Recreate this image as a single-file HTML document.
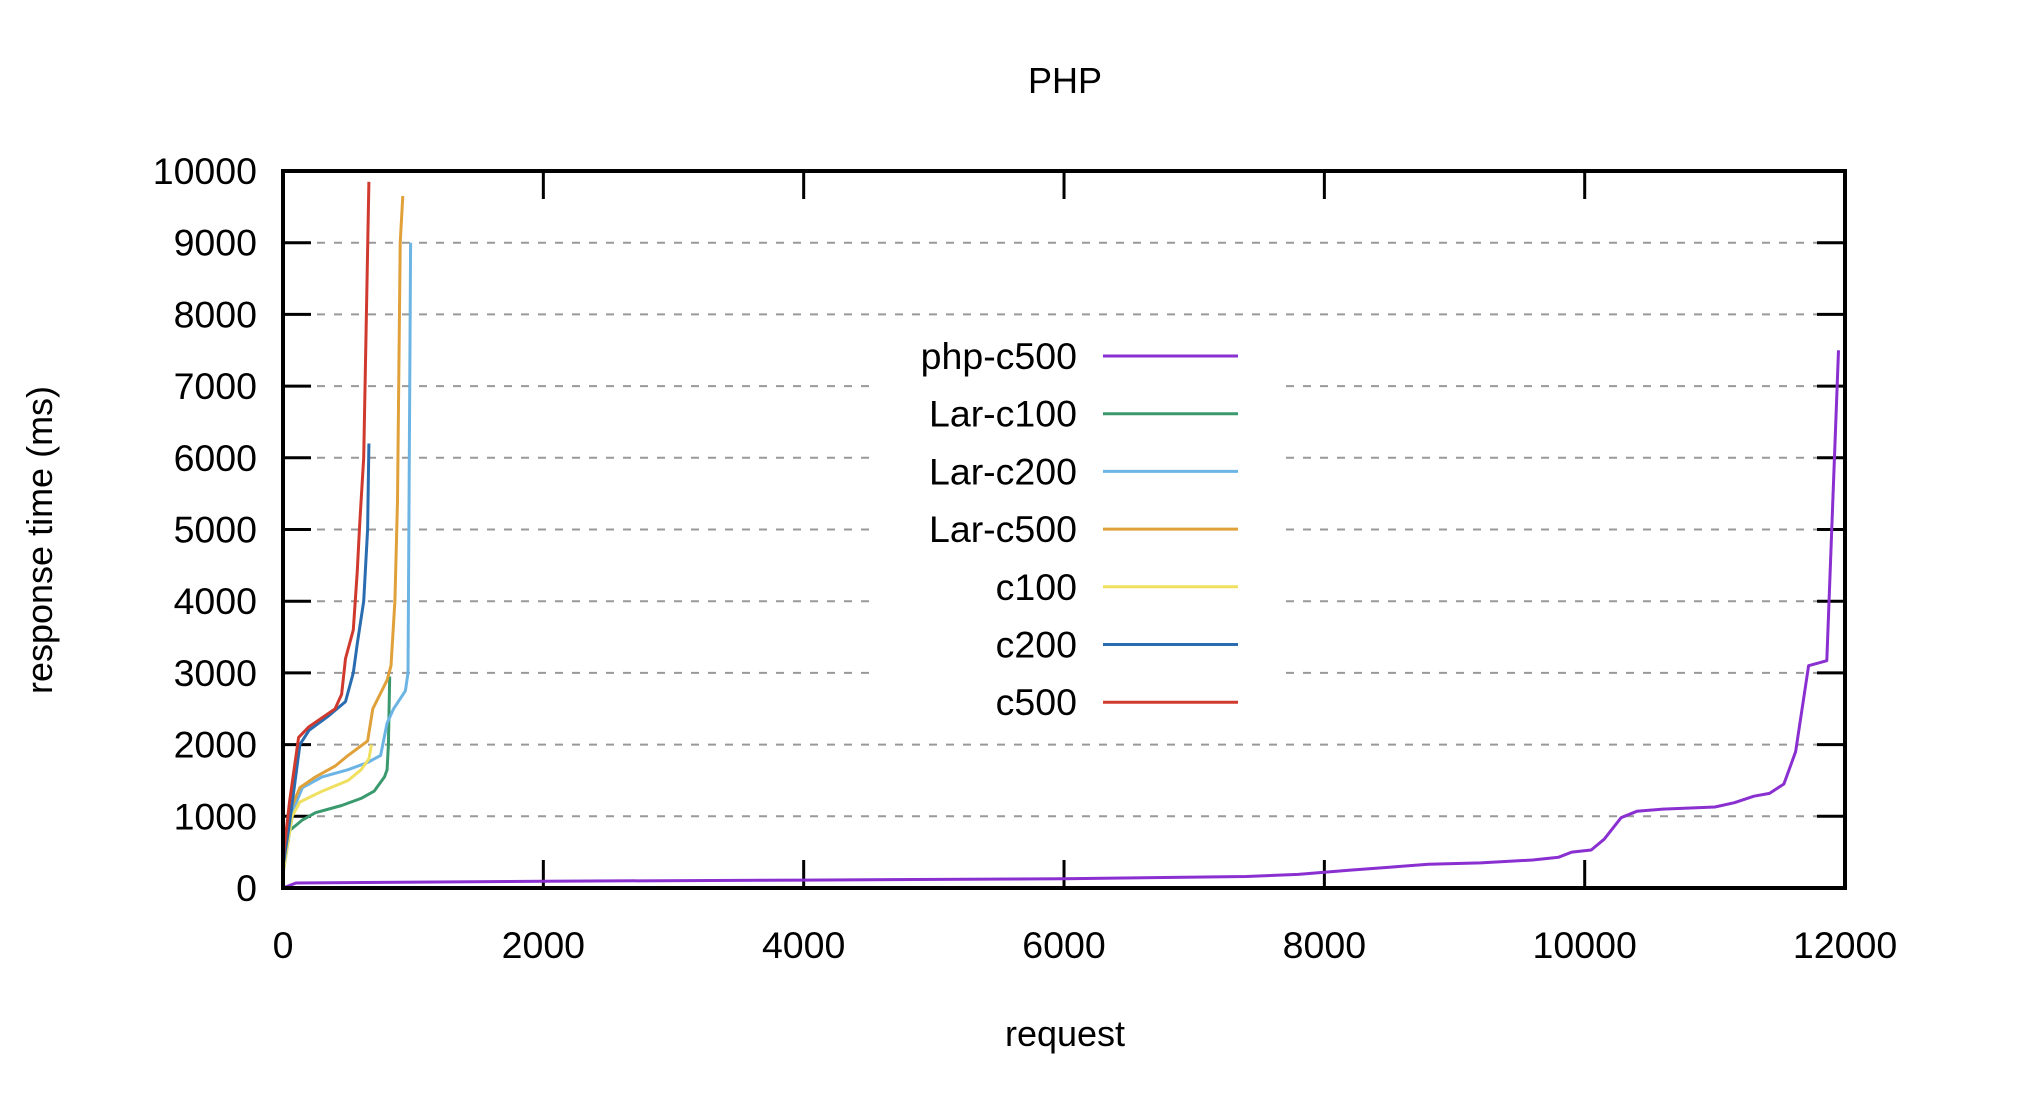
<!DOCTYPE html>
<html><head><meta charset="utf-8"><style>
html,body{margin:0;padding:0;background:#fff;}
svg{display:block;}
text{font-family:"Liberation Sans",Arial,sans-serif;fill:#000;}
</style></head><body>
<svg id="s" width="2034" height="1096" xmlns="http://www.w3.org/2000/svg">
<rect width="2034" height="1096" fill="#fff"/>
<g id="grid" stroke="#999" stroke-width="2" stroke-dasharray="8 9"></g>
<g id="ticks" stroke="#000" stroke-width="3"></g>
<g id="series" fill="none" stroke-width="3" stroke-linejoin="round"></g>
<rect x="875" y="335" width="405" height="390" fill="#fff"/>
<g id="legend"></g>
<rect x="283" y="171" width="1562" height="717" fill="none" stroke="#000" stroke-width="4"/>
<g id="labels" font-size="37.5"></g>
<text x="1065" y="93" font-size="36" text-anchor="middle">PHP</text>
<text x="1065" y="1046" font-size="36" text-anchor="middle">request</text>
<text transform="translate(52,540) rotate(-90)" font-size="36" text-anchor="middle">response time (ms)</text>
</svg>
<script>
var NS="http://www.w3.org/2000/svg";
function X(r){return 283+r*0.13017;}
function Y(v){return 888-v*0.0717;}
function el(t,a,p){var e=document.createElementNS(NS,t);for(var k in a)e.setAttribute(k,a[k]);document.getElementById(p).appendChild(e);return e;}
for(var v=1000;v<10000;v+=1000){el('line',{x1:283,x2:1845,y1:Y(v),y2:Y(v)},'grid');}
for(var v=0;v<=10000;v+=1000){
 el('line',{x1:283,x2:311,y1:Y(v),y2:Y(v)},'ticks');
 el('line',{x1:1817,x2:1845,y1:Y(v),y2:Y(v)},'ticks');
 var t=el('text',{x:257,y:Y(v)+13,'text-anchor':'end'},'labels');t.textContent=v;
}
for(var r=0;r<=12000;r+=2000){
 el('line',{x1:X(r),x2:X(r),y1:171,y2:199},'ticks');
 el('line',{x1:X(r),x2:X(r),y1:860,y2:888},'ticks');
 var t=el('text',{x:X(r),y:958,'text-anchor':'middle'},'labels');t.textContent=r;
}
var S=[
["php-c500","#8a2fd0",[[0,0],[100,70],[2000,95],[4000,110],[6000,130],[7400,160],[7800,190],[8200,250],[8500,290],[8800,330],[9200,350],[9600,390],[9800,430],[9900,500],[10050,530],[10150,680],[10280,980],[10400,1070],[10600,1100],[11000,1130],[11150,1190],[11300,1280],[11420,1320],[11530,1450],[11620,1900],[11720,3100],[11860,3170],[11950,7500]]],
["Lar-c100","#3a9a6e",[[0,200],[50,800],[150,950],[250,1050],[450,1150],[600,1250],[700,1350],[780,1550],[800,1650],[810,2000],[820,2950]]],
["Lar-c200","#6cb4e4",[[0,200],[80,1100],[150,1400],[300,1550],[500,1650],[650,1750],[750,1850],[800,2300],[850,2500],[940,2750],[960,3000],[980,9000]]],
["Lar-c500","#e0a03a",[[0,300],[60,1100],[130,1400],[250,1550],[400,1700],[500,1850],[650,2050],[690,2500],[800,2900],[830,3100],[860,4000],[880,5400],[900,9000],[920,9650]]],
["c100","#f0e060",[[0,200],[70,1000],[130,1200],[300,1350],[500,1500],[600,1650],[660,1800],[680,2000]]],
["c200","#2a6cb0",[[0,300],[50,900],[130,2000],[200,2200],[350,2400],[480,2600],[540,3000],[570,3400],[620,4000],[650,5000],[660,6200]]],
["c500","#d03a2e",[[0,400],[50,1200],[120,2100],[200,2250],[400,2500],[450,2700],[480,3200],[540,3600],[570,4400],[590,5100],[620,6000],[660,9850]]]
];
var order=[1,2,3,4,5,6,0];
order.forEach(function(i){var s=S[i];el('polyline',{points:s[2].map(function(p){return X(p[0]).toFixed(1)+','+Y(p[1]).toFixed(1)}).join(' '),stroke:s[1]},'series');});
S.forEach(function(s,i){var y=356+i*57.7;
 el('line',{x1:1103,x2:1238,y1:y,y2:y,stroke:s[1],'stroke-width':3},'legend');
 var t=el('text',{x:1077,y:y+13,'text-anchor':'end','font-size':37.5},'legend');t.textContent=s[0];});
</script>
</body></html>
